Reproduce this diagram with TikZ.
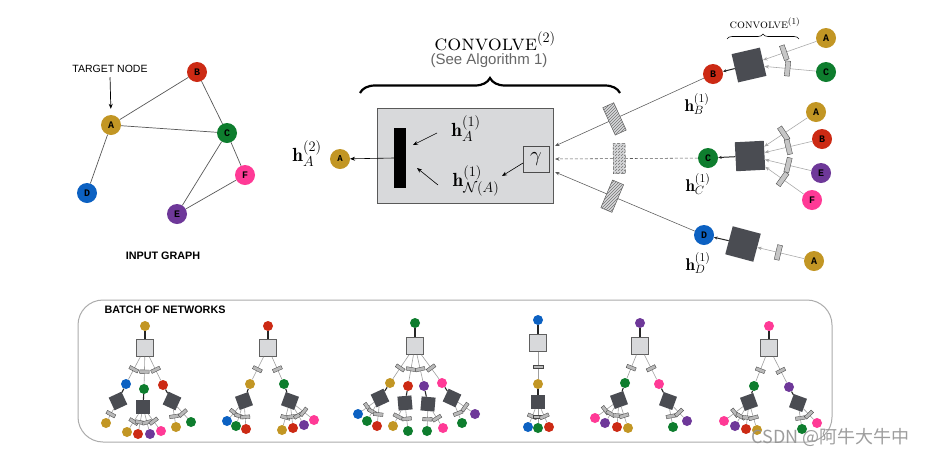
\documentclass[tikz,border=0pt]{standalone}
\usepackage{fontspec}
\newfontfamily\hv{Liberation Sans}
\newfontfamily\mono{Liberation Mono}
\newfontfamily\cjk{Noto Sans CJK SC}
\usetikzlibrary{arrows.meta,decorations.pathreplacing,patterns,calc}
\definecolor{cA}{RGB}{194,150,36}
\definecolor{cB}{RGB}{204,42,20}
\definecolor{cC}{RGB}{14,125,46}
\definecolor{cD}{RGB}{12,97,194}
\definecolor{cE}{RGB}{110,56,153}
\definecolor{cF}{RGB}{255,58,150}
\definecolor{boxgray}{RGB}{216,217,219}
\definecolor{darksq}{RGB}{74,76,82}
\newcommand\MiniNode[4]{\node[mnode,fill=#4] (#1) at (#2,#3) {};}
\newcommand\MiniDark[4]{\node[dsq,rotate=#4] (#1) at (#2,#3) {};}
\newcommand\MiniLight[3]{\node[lsq] (#1) at (#2,#3) {};}
\newcommand\MiniEdge[2]{\draw[gl] (#1) -- node[mr, pos=0.55]{} (#2);}
\newcommand\MiniBold[2]{\draw[bl] (#1) -- (#2);}
\begin{document}
\begin{tikzpicture}[x=1pt,y=-1pt,
 gnode/.style={circle, inner sep=0pt, minimum size=20pt, font=\mono\bfseries\fontsize{10}{10}\selectfont, text=black},
 mnode/.style={circle, inner sep=0pt, minimum size=10pt},
 lsq/.style={draw=gray!75!black, fill=boxgray, minimum size=17pt, inner sep=0pt, line width=0.7pt},
 dsq/.style={fill=darksq, minimum size=14pt, inner sep=0pt},
 bsq/.style={fill=darksq, minimum size=29pt, inner sep=0pt},
 gl/.style={draw=gray!75, line width=0.6pt},
 bl/.style={draw=black!85, line width=1.1pt},
 mr/.style={sloped, draw=gray!55!black, fill=gray!55, minimum width=3.5pt, minimum height=9.5pt, inner sep=0pt, line width=0.35pt},
 mr2/.style={sloped, draw=gray!60!black, fill=gray!45, minimum width=5pt, minimum height=15pt, inner sep=0pt, line width=0.4pt},
 hatch/.style={sloped, draw=gray!70!black, fill=boxgray, postaction={pattern=north east lines, pattern color=gray!90!black}, minimum width=12pt, minimum height=30pt, inner sep=0pt, line width=0.5pt},
 arr/.style={-{Stealth[length=5pt,width=4pt]}, line width=0.7pt},
 sarr/.style={-{Stealth[length=4.5pt,width=3.5pt]}, line width=0.55pt, gray!75!black},
 barr/.style={-{Stealth[length=3.5pt,width=3pt]}, line width=1pt, black!85},
 gedge/.style={draw=gray!70!black, line width=0.7pt},
 hlab/.style={font=\fontsize{19}{19}\selectfont},
 hlabs/.style={font=\fontsize{17}{17}\selectfont}
]
\useasboundingbox[fill=white] (0,0) rectangle (934,456);

% ---------- input graph ----------
\node[gnode,fill=cA] (A) at (111,125) {A};
\node[gnode,fill=cB] (B) at (197,72) {B};
\node[gnode,fill=cC] (C) at (227,133) {C};
\node[gnode,fill=cD] (D) at (87,193) {D};
\node[gnode,fill=cE] (E) at (177,214) {E};
\node[gnode,fill=cF] (F) at (245,175) {F};
\draw[gedge] (A) -- (B);
\draw[gedge] (A) -- (C);
\draw[gedge] (A) -- (D);
\draw[gedge] (B) -- (C);
\draw[gedge] (C) -- (E);
\draw[gedge] (C) -- (F);
\draw[gedge] (E) -- (F);
\node[font=\hv\fontsize{10.5}{10.5}\selectfont] (tn) at (110,69) {TARGET NODE};
\draw[arr, shorten >=6pt, shorten <=1pt] (tn.south) -- (A.north);
\node[font=\hv\bfseries\fontsize{10.8}{10.8}\selectfont] (ig) at (163,256) {INPUT GRAPH};

% ---------- convolve 2 ----------
\node[font=\fontsize{22}{22}\selectfont] (cv2) at (495,41) {\textsc{convolve}$^{(2)}$};
\node[font=\hv\fontsize{15}{15}\selectfont, text=gray!80!black] (see) at (489,61) {(See Algorithm 1)};
\coordinate (brL) at (360,93);
\coordinate (brR) at (620,93);
\draw[decorate, decoration={brace, amplitude=15pt}, line width=2.2pt] (brL) -- (brR);

\node[draw=gray!70!black, fill=boxgray, minimum width=176pt, minimum height=95pt, inner sep=0pt, line width=0.7pt] (box) at (465,155.5) {};
\node[fill=black, minimum width=12pt, minimum height=60pt, inner sep=0pt] (bar) at (400,158) {};
\node[hlab] (hA1) at (466,129) {$\mathbf{h}^{(1)}_A$};
\node[hlab] (hN1) at (476,181) {$\mathbf{h}^{(1)}_{\mathcal{N}(A)}$};
\node[draw=gray!60!black, fill=boxgray, minimum size=26pt, inner sep=0pt, line width=0.7pt, font=\fontsize{21}{21}\selectfont] (gam) at (536,159) {$\gamma$};
\coordinate (a1s) at (437,133);
\coordinate (a1e) at (413,145);
\coordinate (a2s) at (438,185);
\coordinate (a2e) at (417,168);
\coordinate (g1s) at (523,163);
\coordinate (g1e) at (502,176);
\draw[arr, line width=0.6pt] (a1s) -- (a1e);
\draw[arr, line width=0.6pt] (a2s) -- (a2e);
\draw[arr, line width=0.6pt] (g1s) -- (g1e);
\node[gnode, fill=cA, font=\mono\bfseries\fontsize{9}{9}\selectfont] (Aout) at (340,159) {A};
\draw[arr, line width=0.6pt, shorten >=10pt] (bar.west) -- (Aout.center);
\node[hlab] (hA2) at (307,154) {$\mathbf{h}^{(2)}_A$};

% ---------- right side ----------
\node[gnode,fill=cB] (B1) at (713,74) {B};
\node[gnode,fill=cC] (C1) at (708,158) {C};
\node[gnode,fill=cD] (D1) at (704,235) {D};
\coordinate (in1) at (555,146);
\coordinate (in2) at (555,159);
\coordinate (in3) at (555,172);
\draw[sarr, gray!70!black] (B1) -- node[hatch, pos=0.6]{} (in1);
\draw[sarr, gray!70!black, densely dashed] (C1) -- node[hatch, pos=0.55]{} (in2);
\draw[sarr, gray!70!black] (D1) -- node[hatch, pos=0.59]{} (in3);
\node[hlabs] (hB) at (697,104) {$\mathbf{h}^{(1)}_B$};
\node[hlabs] (hC) at (698,184) {$\mathbf{h}^{(1)}_C$};
\node[hlabs] (hD) at (698,263) {$\mathbf{h}^{(1)}_D$};

\node[font=\fontsize{12.5}{12.5}\selectfont] (cv1) at (765,23) {\textsc{convolve}$^{(1)}$};
\coordinate (bbL) at (727,39);
\coordinate (bbR) at (799,39);
\draw[decorate, decoration={brace, amplitude=5pt}, line width=0.6pt] (bbL) -- (bbR);

\node[bsq, rotate=13] (sqB) at (749,65) {};
\node[bsq, rotate=3] (sqC) at (750,156) {};
\node[bsq, rotate=-15] (sqD) at (743,244) {};
\node[gnode,fill=cA] (LBa) at (826,38) {A};
\node[gnode,fill=cC] (LBc) at (826,72) {C};
\node[gnode,fill=cA] (LCa) at (816,112) {A};
\node[gnode,fill=cB] (LCb) at (822,139) {B};
\node[gnode,fill=cE] (LCe) at (821,173) {E};
\node[gnode,fill=cF] (LCf) at (812,200) {F};
\node[gnode,fill=cA] (LDa) at (814,261) {A};
\draw[sarr, gray!70] (LBa) -- node[mr2, pos=0.6]{} (sqB);
\draw[sarr, gray!70] (LBc) -- node[mr2, pos=0.55]{} (sqB);
\draw[sarr, gray!70] (LCa) -- node[mr2, pos=0.55]{} (sqC);
\draw[sarr, gray!70] (LCb) -- node[mr2, pos=0.5]{} (sqC);
\draw[sarr, gray!70] (LCe) -- node[mr2, pos=0.5]{} (sqC);
\draw[sarr, gray!70] (LCf) -- node[mr2, pos=0.55]{} (sqC);
\draw[sarr, gray!70] (LDa) -- node[mr2, pos=0.55]{} (sqD);
\draw[barr] (sqB) -- (B1);
\draw[barr] (sqC) -- (C1);
\draw[barr] (sqD) -- (D1);

% ---------- batch ----------
\node[draw=gray!65, line width=1pt, rounded corners=25pt, minimum width=754pt, minimum height=142pt, inner sep=0pt] (batch) at (455,371) {};
\node[font=\hv\bfseries\fontsize{10.8}{10.8}\selectfont, anchor=west] (bt) at (101,310) {BATCH OF NETWORKS};

% tree 1
\MiniNode{t1r}{145}{326}{cA}
\MiniLight{t1s}{145}{348}
\MiniNode{t1a}{126}{384}{cD}
\MiniNode{t1b}{144}{389}{cC}
\MiniNode{t1c}{163}{385}{cB}
\MiniDark{t1ad}{118}{401}{25}
\MiniDark{t1bd}{143}{407}{0}
\MiniDark{t1cd}{172}{401}{-25}
\MiniNode{t1a1}{106}{423}{cA}
\MiniNode{t1b1}{127}{432}{cA}
\MiniNode{t1b2}{138}{434}{cB}
\MiniNode{t1b3}{150}{434}{cE}
\MiniNode{t1b4}{161}{431}{cF}
\MiniNode{t1c1}{176}{427}{cA}
\MiniNode{t1c2}{191}{422}{cC}
\MiniBold{t1r}{t1s}
\MiniEdge{t1s}{t1a}\MiniEdge{t1s}{t1b}\MiniEdge{t1s}{t1c}
\MiniBold{t1a}{t1ad}\MiniBold{t1b}{t1bd}\MiniBold{t1c}{t1cd}
\MiniEdge{t1ad}{t1a1}
\MiniEdge{t1bd}{t1b1}\MiniEdge{t1bd}{t1b2}\MiniEdge{t1bd}{t1b3}\MiniEdge{t1bd}{t1b4}
\MiniEdge{t1cd}{t1c1}\MiniEdge{t1cd}{t1c2}

% tree 2
\MiniNode{t2r}{268}{326}{cB}
\MiniLight{t2s}{268}{348}
\MiniNode{t2a}{250}{384}{cA}
\MiniNode{t2b}{284}{384}{cC}
\MiniDark{t2ad}{244}{401}{20}
\MiniDark{t2bd}{290}{401}{-20}
\MiniNode{t2a1}{227}{421}{cD}
\MiniNode{t2a2}{236}{426}{cC}
\MiniNode{t2a3}{246}{429}{cB}
\MiniNode{t2b1}{282}{430}{cA}
\MiniNode{t2b2}{293}{428}{cB}
\MiniNode{t2b3}{304}{425}{cE}
\MiniNode{t2b4}{314}{420}{cF}
\MiniBold{t2r}{t2s}
\MiniEdge{t2s}{t2a}\MiniEdge{t2s}{t2b}
\MiniBold{t2a}{t2ad}\MiniBold{t2b}{t2bd}
\MiniEdge{t2ad}{t2a1}\MiniEdge{t2ad}{t2a2}\MiniEdge{t2ad}{t2a3}
\MiniEdge{t2bd}{t2b1}\MiniEdge{t2bd}{t2b2}\MiniEdge{t2bd}{t2b3}\MiniEdge{t2bd}{t2b4}

% tree 3
\MiniNode{t3r}{415}{323}{cC}
\MiniLight{t3s}{415}{346}
\MiniNode{t3a}{390}{383}{cA}
\MiniNode{t3b}{408}{386}{cB}
\MiniNode{t3c}{424}{386}{cE}
\MiniNode{t3d}{442}{383}{cF}
\MiniDark{t3ad}{380}{398}{25}
\MiniDark{t3bd}{405}{403}{5}
\MiniDark{t3cd}{428}{404}{-5}
\MiniDark{t3dd}{452}{398}{-25}
\MiniNode{t3a1}{358}{414}{cD}
\MiniNode{t3a2}{367}{421}{cC}
\MiniNode{t3a3}{377}{426}{cB}
\MiniNode{t3b1}{393}{426}{cA}
\MiniNode{t3b2}{408}{431}{cC}
\MiniNode{t3c1}{427}{431}{cC}
\MiniNode{t3c2}{443}{428}{cF}
\MiniNode{t3d1}{462}{423}{cC}
\MiniNode{t3d2}{475}{414}{cE}
\MiniBold{t3r}{t3s}
\MiniEdge{t3s}{t3a}\MiniEdge{t3s}{t3b}\MiniEdge{t3s}{t3c}\MiniEdge{t3s}{t3d}
\MiniBold{t3a}{t3ad}\MiniBold{t3b}{t3bd}\MiniBold{t3c}{t3cd}\MiniBold{t3d}{t3dd}
\MiniEdge{t3ad}{t3a1}\MiniEdge{t3ad}{t3a2}\MiniEdge{t3ad}{t3a3}
\MiniEdge{t3bd}{t3b1}\MiniEdge{t3bd}{t3b2}
\MiniEdge{t3cd}{t3c1}\MiniEdge{t3cd}{t3c2}
\MiniEdge{t3dd}{t3d1}\MiniEdge{t3dd}{t3d2}

% tree 4
\MiniNode{t4r}{538}{320}{cD}
\MiniLight{t4s}{538}{343}
\MiniNode{t4a}{538}{384}{cA}
\MiniDark{t4ad}{538}{402}{0}
\MiniNode{t4a1}{528}{427}{cD}
\MiniNode{t4a2}{538}{428}{cC}
\MiniNode{t4a3}{549}{427}{cB}
\MiniBold{t4r}{t4s}
\MiniEdge{t4s}{t4a}
\MiniBold{t4a}{t4ad}
\MiniEdge{t4ad}{t4a1}\MiniEdge{t4ad}{t4a2}\MiniEdge{t4ad}{t4a3}

% tree 5
\MiniNode{t5r}{640}{323}{cE}
\MiniLight{t5s}{640}{346}
\MiniNode{t5a}{625}{383}{cC}
\MiniNode{t5b}{659}{384}{cF}
\MiniDark{t5ad}{619}{400}{20}
\MiniDark{t5bd}{668}{401}{-20}
\MiniNode{t5a1}{595}{418}{cF}
\MiniNode{t5a2}{605}{423}{cE}
\MiniNode{t5a3}{617}{427}{cB}
\MiniNode{t5a4}{628}{428}{cA}
\MiniNode{t5b1}{673}{427}{cC}
\MiniNode{t5b2}{687}{421}{cE}
\MiniBold{t5r}{t5s}
\MiniEdge{t5s}{t5a}\MiniEdge{t5s}{t5b}
\MiniBold{t5a}{t5ad}\MiniBold{t5b}{t5bd}
\MiniEdge{t5ad}{t5a1}\MiniEdge{t5ad}{t5a2}\MiniEdge{t5ad}{t5a3}\MiniEdge{t5ad}{t5a4}
\MiniEdge{t5bd}{t5b1}\MiniEdge{t5bd}{t5b2}

% tree 6
\MiniNode{t6r}{769}{326}{cF}
\MiniLight{t6s}{769}{348}
\MiniNode{t6a}{754}{386}{cC}
\MiniNode{t6b}{789}{387}{cE}
\MiniDark{t6ad}{749}{402}{20}
\MiniDark{t6bd}{798}{403}{-20}
\MiniNode{t6a1}{724}{421}{cF}
\MiniNode{t6a2}{735}{426}{cE}
\MiniNode{t6a3}{746}{429}{cB}
\MiniNode{t6a4}{757}{430}{cA}
\MiniNode{t6b1}{802}{429}{cC}
\MiniNode{t6b2}{817}{423}{cF}
\MiniBold{t6r}{t6s}
\MiniEdge{t6s}{t6a}\MiniEdge{t6s}{t6b}
\MiniBold{t6a}{t6ad}\MiniBold{t6b}{t6bd}
\MiniEdge{t6ad}{t6a1}\MiniEdge{t6ad}{t6a2}\MiniEdge{t6ad}{t6a3}\MiniEdge{t6ad}{t6a4}
\MiniEdge{t6bd}{t6b1}\MiniEdge{t6bd}{t6b2}

% watermark
\node[anchor=west, text=gray!85, opacity=0.9, font=\cjk\fontsize{18}{18}\selectfont] (wm) at (748,437) {CSDN @阿牛大牛中};
\end{tikzpicture}
\end{document}
